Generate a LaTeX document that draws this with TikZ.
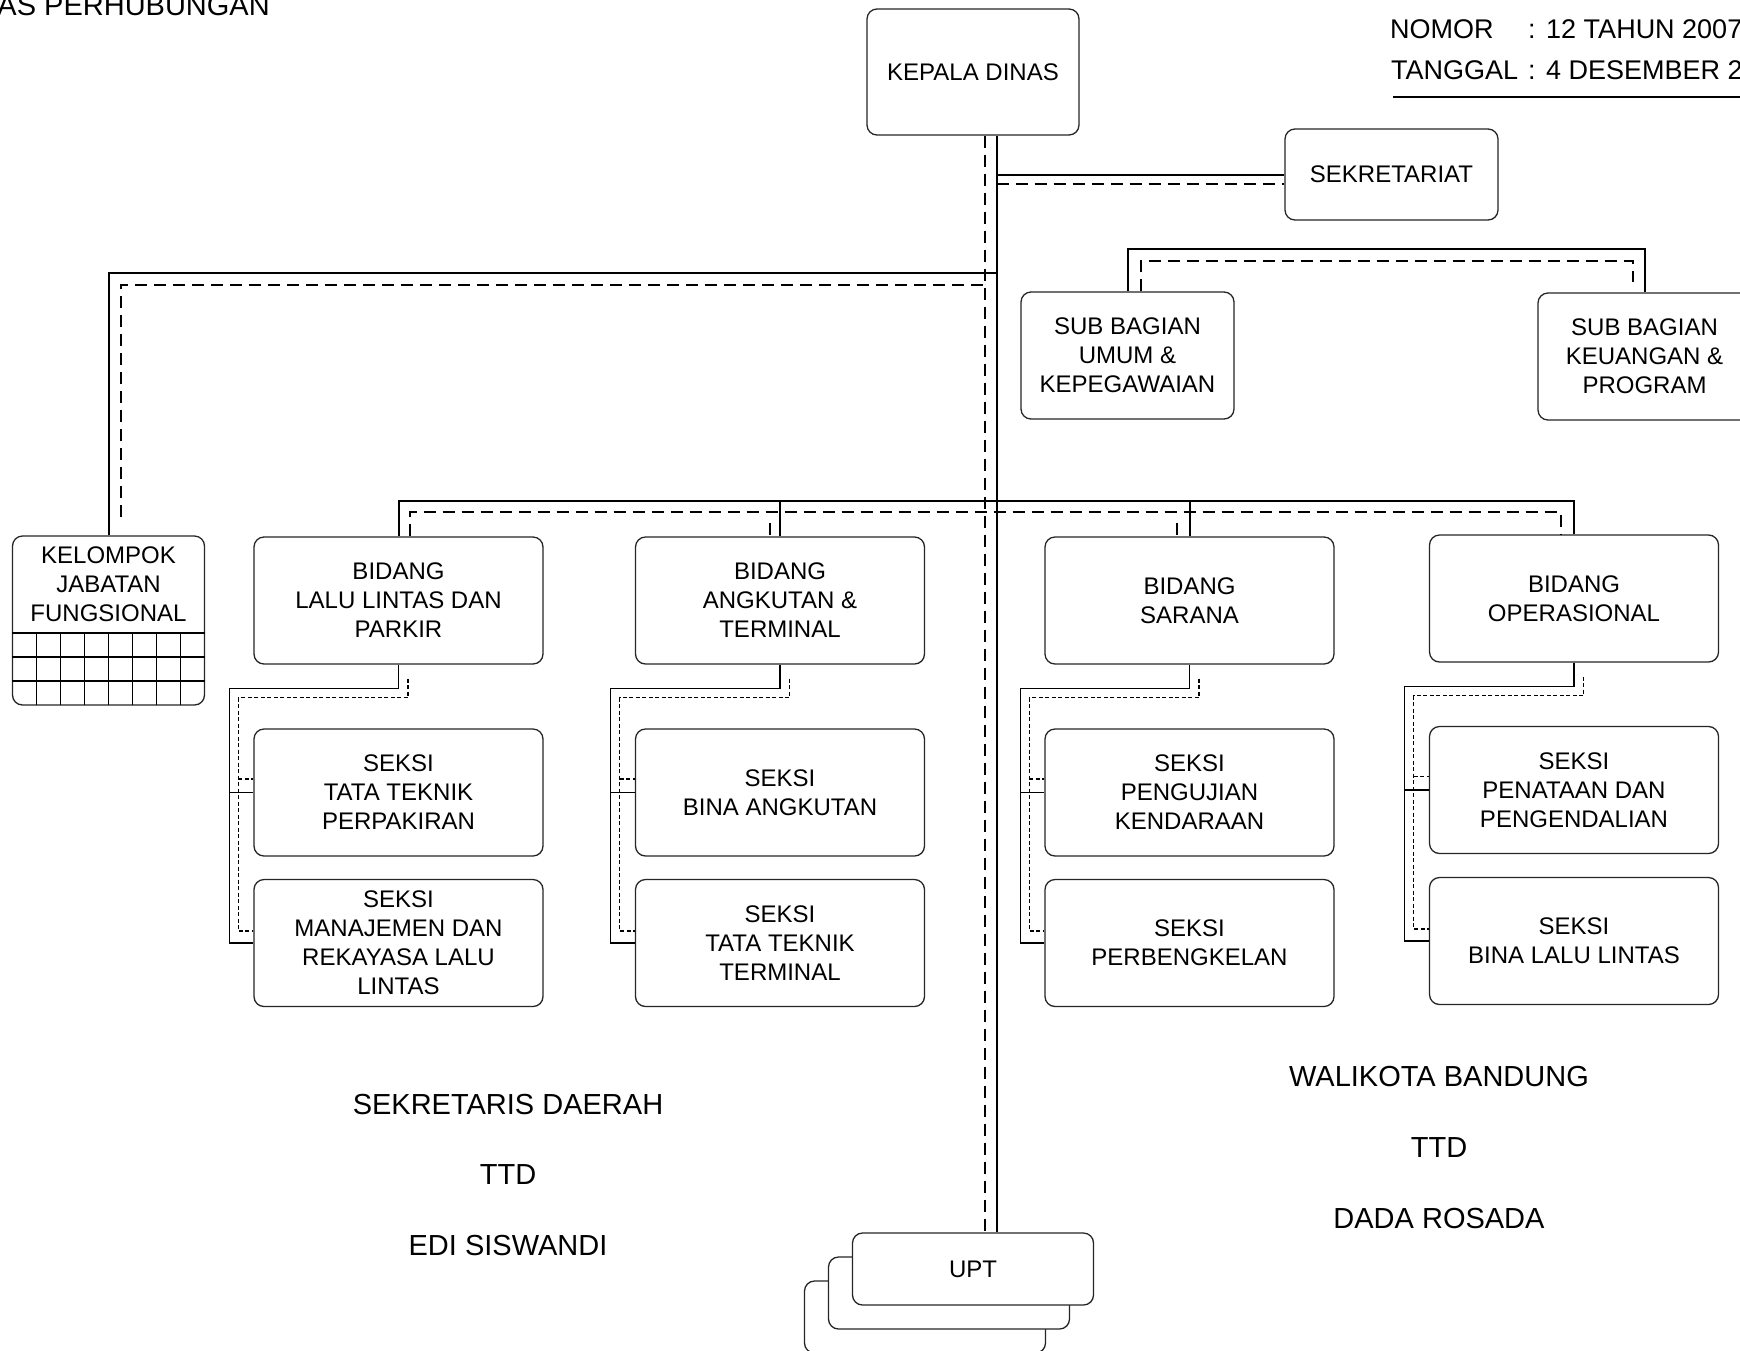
\documentclass[tikz,border=0pt]{standalone}
\usepackage{fontspec}
\setmainfont{Liberation Sans}
\usetikzlibrary{calc}
\begin{document}
\begin{tikzpicture}[x=1pt,y=-1pt,
  unit/.style={draw=black!85, line width=1.3pt, rounded corners=10pt, fill=white,
    align=center, inner sep=0pt, font=\fontsize{24}{29}\selectfont},
  boxtext/.style={align=center, inner sep=0pt, font=\fontsize{24}{29}\selectfont},
  mainline/.style={line width=2pt, black},
  maindash/.style={line width=2pt, black, dash pattern=on 12pt off 7pt},
  subline/.style={line width=1.2pt, black},
  subdash/.style={line width=1.1pt, black, dash pattern=on 4pt off 2.5pt},
  sign/.style={font=\fontsize{29}{34}\selectfont, anchor=base, inner sep=0pt},
  head/.style={font=\fontsize{27}{32}\selectfont, anchor=base west, inner sep=0pt}]

\useasboundingbox[fill=white] (0,0) rectangle (1740,1350);

% ---- header texts
\node[font=\fontsize{29}{34}\selectfont, anchor=base east, inner sep=0pt] (judul) at (270,15) {AS PERHUBUNGAN};
\node[head] (nomor) at (1390,38) {NOMOR};
\node[head] (nomorsep) at (1528,38) {:};
\node[head] (nomorval) at (1546,38) {12 TAHUN 2007};
\node[head] (tgl) at (1391,79) {TANGGAL};
\node[head] (tglsep) at (1528,79) {:};
\node[head] (tglval) at (1546,79) {4 DESEMBER 2};
\coordinate (ruleA) at (1393,97);
\coordinate (ruleB) at (1740,97);
\draw[line width=2pt] (ruleA) -- (ruleB);

% ---- top level
\node[unit, minimum width=212pt, minimum height=126pt] (kepala) at (973,72) {KEPALA DINAS};
\node[unit, minimum width=213pt, minimum height=91pt] (sekret) at (1391.5,174.5) {SEKRETARIAT};
\node[unit, minimum width=213pt, minimum height=127pt] (subumum) at (1127.5,355.5) {SUB BAGIAN\\UMUM \&\\KEPEGAWAIAN};
\node[unit, minimum width=213pt, minimum height=127pt] (subkeu) at (1644.5,356.5) {SUB BAGIAN\\KEUANGAN \&\\PROGRAM};

% ---- functional group with its grid
\node[unit, minimum width=192pt, minimum height=169pt] (kelompok) at (108.5,620.5) {};
\node[boxtext] (kelompoktxt) at (108.5,584) {KELOMPOK\\JABATAN\\FUNGSIONAL};
\foreach \y in {633,657,681}
  \draw[line width=1.2pt] (kelompok.west |- 0,\y) -- (kelompok.east |- 0,\y);
\foreach \x in {36.5,60.5,...,180.5}
  \draw[line width=1.2pt] (\x,633) -- (\x,705);

% ---- divisions
\node[unit, minimum width=289pt, minimum height=127pt] (lalu) at (398.5,600.5) {BIDANG\\LALU LINTAS DAN\\PARKIR};
\node[unit, minimum width=289pt, minimum height=127pt] (angk) at (780,600.5) {BIDANG\\ANGKUTAN \&\\TERMINAL};
\node[unit, minimum width=289pt, minimum height=127pt] (sar) at (1189.5,600.5) {BIDANG\\SARANA};
\node[unit, minimum width=289pt, minimum height=127pt] (oper) at (1574,598.5) {BIDANG\\OPERASIONAL};

% ---- sections
\node[unit, minimum width=289pt, minimum height=127pt] (s1a) at (398.5,792.5) {SEKSI\\TATA TEKNIK\\PERPAKIRAN};
\node[unit, minimum width=289pt, minimum height=127pt] (s1b) at (398.5,943) {SEKSI\\MANAJEMEN DAN\\REKAYASA LALU\\LINTAS};
\node[unit, minimum width=289pt, minimum height=127pt] (s2a) at (780,792.5) {SEKSI\\BINA ANGKUTAN};
\node[unit, minimum width=289pt, minimum height=127pt] (s2b) at (780,943) {SEKSI\\TATA TEKNIK\\TERMINAL};
\node[unit, minimum width=289pt, minimum height=127pt] (s3a) at (1189.5,792.5) {SEKSI\\PENGUJIAN\\KENDARAAN};
\node[unit, minimum width=289pt, minimum height=127pt] (s3b) at (1189.5,943) {SEKSI\\PERBENGKELAN};
\node[unit, minimum width=289pt, minimum height=127pt] (s4a) at (1574,790) {SEKSI\\PENATAAN DAN\\PENGENDALIAN};
\node[unit, minimum width=289pt, minimum height=127pt] (s4b) at (1574,941) {SEKSI\\BINA LALU LINTAS};

% ---- stacked UPT
\node[unit, minimum width=241pt, minimum height=72pt] (upt3) at (925,1317) {};
\node[unit, minimum width=241pt, minimum height=72pt] (upt2) at (949,1293) {};
\node[unit, minimum width=241pt, minimum height=72pt] (upt) at (973,1269) {UPT};

% ---- main trunk (solid = command, dashed = coordination)
\coordinate (ms) at ([shift={(23.5,0)}]kepala.south);
\coordinate (md) at ([shift={(12,0)}]kepala.south);
\draw[mainline] (ms) -- (ms |- upt.north);
\draw[maindash] (md) -- (md |- upt.north);

% secretariat
\coordinate (sd) at ([shift={(0,9)}]sekret.west);
\draw[mainline] (ms |- sekret.west) -- (sekret.west);
\draw[maindash] (sd -| ms) -- (sd);

% functional group
\coordinate (kbar) at (0,272.5);
\coordinate (kdbar) at (0,284.5);
\coordinate (kd) at (120.5,517);
\draw[mainline] (kelompok.north) |- (kbar -| ms);
\draw[maindash] (kd) |- (kdbar -| md);

% sub sections of the secretariat
\coordinate (sbbar) at (0,248.5);
\coordinate (sbd) at (0,261);
\coordinate (sbdr) at (1632.5,282);
\draw[mainline] (subumum.north) |- (sbbar -| subkeu.north) -- (subkeu.north);
\draw[maindash] ([shift={(13.5,0)}]subumum.north) |- (sbd -| sbdr) -- (sbdr);

% divisions bar
\coordinate (bbar) at (0,500.5);
\coordinate (bd) at (0,512);
\coordinate (bdr) at ([shift={(-13.5,0)}]oper.north);
\draw[mainline] (lalu.north) |- (bbar -| oper.north) -- (oper.north);
\draw[mainline] (angk.north) -- (angk.north |- bbar);
\draw[mainline] (sar.north) -- (sar.north |- bbar);
\draw[maindash] ([shift={(11.5,0)}]lalu.north) |- (bd -| bdr) -- (bdr);
\draw[maindash] ([shift={(-10.5,-13)}]angk.north) -- ([shift={(-10.5,0)}]angk.north);
\draw[maindash] ([shift={(-13,-13)}]sar.north) -- ([shift={(-13,0)}]sar.north);

% division to section combs
\foreach \b/\p/\q in {lalu/s1a/s1b, angk/s2a/s2b, sar/s3a/s3b, oper/s4a/s4b} {
  \draw[subline] (\b.south) -- ++(0,24) -| ([shift={(-24,0)}]\q.west) -- (\q.west);
  \draw[subline] ([shift={(-24,0)}]\p.west) -- (\p.west);
  \draw[subdash] ([shift={(9.5,14)}]\b.south) -- ++(0,19) -| ([shift={(-15,-12)}]\q.west) -- ([shift={(0,-12)}]\q.west);
  \draw[subdash] ([shift={(-15,-13.5)}]\p.west) -- ([shift={(0,-13.5)}]\p.west);
}

% ---- signatures
\node[sign] (sekda) at (508,1114.5) {SEKRETARIS DAERAH};
\node[sign] (sekdattd) at (508,1184.5) {TTD};
\node[sign] (sekdanama) at (508,1255.5) {EDI SISWANDI};
\node[sign] (wali) at (1439,1086.5) {WALIKOTA BANDUNG};
\node[sign] (walittd) at (1439,1157.5) {TTD};
\node[sign] (walinama) at (1439,1228.5) {DADA ROSADA};
\end{tikzpicture}
\end{document}
